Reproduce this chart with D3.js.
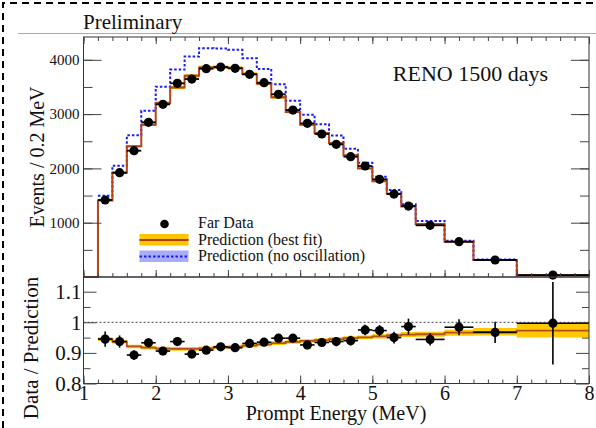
<!DOCTYPE html>
<html>
<head>
<meta charset="utf-8">
<script src="https://cdn.jsdelivr.net/npm/d3@7"></script>
<style>
  body { margin: 0; background: #fff; }
  svg { display: block; font-family: "Liberation Serif", "Times New Roman", serif; }
  .axis path.domain { display: none; }
  .axis line { stroke: #444; stroke-width: 1; }
  .axis text { fill: #111; font-family: "Liberation Serif", serif; }
</style>
</head>
<body>
<div id="chart"></div>
<script>
// bin edges in MeV (wider bins above 5.6 MeV)
var binEdges = [1.2, 1.4, 1.6, 1.8, 2.0, 2.2, 2.4, 2.6, 2.8, 3.0, 3.2, 3.4, 3.6, 3.8,
                4.0, 4.2, 4.4, 4.6, 4.8, 5.0, 5.2, 5.4, 5.6, 6.0, 6.4, 7.0, 8.0];
var binCenters = [1.3, 1.5, 1.7, 1.9, 2.1, 2.3, 2.5, 2.7, 2.9, 3.1, 3.3, 3.5, 3.7,
                  3.9, 4.1, 4.3, 4.5, 4.7, 4.9, 5.1, 5.3, 5.5, 5.8, 6.2, 6.7, 7.5];

// events / 0.2 MeV
var farData = [1418, 1921, 2326, 2849, 3180, 3567, 3646, 3836, 3867, 3843, 3733, 3578, 3365,
               3075, 2830, 2634, 2443, 2216, 2044, 1799, 1528, 1307, 952, 650, 313, 35];
var predBestFit = [1410, 1921, 2410, 2805, 3205, 3490, 3705, 3860, 3865, 3850, 3740, 3560, 3310,
                   3040, 2805, 2650, 2465, 2240, 2000, 1762, 1533, 1300, 975, 650, 313, 34];
var predNoOsc = [1495, 2050, 2610, 3060, 3505, 3820, 4060, 4215, 4210, 4185, 4030, 3830, 3550,
                 3247, 2990, 2812, 2608, 2360, 2105, 1847, 1602, 1339, 1031, 668, 322, 35];

// data / prediction(no oscillation)
var ratioData = [0.945, 0.937, 0.893, 0.933, 0.906, 0.937, 0.896, 0.909, 0.920, 0.917, 0.931, 0.935, 0.948,
                 0.948, 0.926, 0.934, 0.937, 0.940, 0.975, 0.973, 0.950, 0.986, 0.944, 0.984, 0.967, 0.997];
var ratioErr = [0.025, 0.020, 0.016, 0.014, 0.013, 0.013, 0.013, 0.012, 0.012, 0.012, 0.012, 0.012, 0.013,
                0.013, 0.014, 0.014, 0.015, 0.016, 0.017, 0.018, 0.019, 0.026, 0.020, 0.026, 0.035, 0.135];
var ratioFit = [0.945, 0.937, 0.921, 0.917, 0.914, 0.913, 0.913, 0.915, 0.918, 0.920, 0.924, 0.928, 0.932,
                0.936, 0.939, 0.942, 0.945, 0.948, 0.951, 0.954, 0.957, 0.960, 0.961, 0.966, 0.969, 0.973];
var ratioFitErr = [0.006, 0.006, 0.006, 0.006, 0.006, 0.006, 0.006, 0.006, 0.006, 0.006, 0.006, 0.006, 0.006,
                   0.006, 0.006, 0.006, 0.006, 0.006, 0.006, 0.007, 0.007, 0.008, 0.008, 0.010, 0.012, 0.023];

var xTicks = [1, 2, 3, 4, 5, 6, 7, 8];
var yTopTicks = [1000, 2000, 3000, 4000];
var yLowTicks = [0.8, 0.9, 1, 1.1];

var W = 596, H = 428;
var svg = d3.select("#chart").append("svg")
    .attr("width", W)
    .attr("height", H);

// dashed outline (left + top) and the header rule
svg.append("path")
    .attr("d", "M3,428V3H596")
    .attr("fill", "none")
    .attr("stroke", "#000")
    .attr("stroke-width", 2)
    .attr("stroke-dasharray", "7,5");

svg.append("line")
    .attr("x1", 18).attr("x2", 596)
    .attr("y1", 33.5).attr("y2", 33.5)
    .attr("stroke", "#aaa").attr("stroke-width", 1);

svg.append("text")
    .attr("x", 83).attr("y", 29)
    .attr("font-size", 21)
    .attr("fill", "#111")
    .text("Preliminary");

var x = d3.scaleLinear().domain([1, 8]).range([83.5, 589]);
var yTop = d3.scaleLinear().domain([0, 4420]).range([277, 37]);
var yLow = d3.scaleLinear().domain([0.8, 1.148]).range([383.5, 277]);

// ---- upper pad ----
var upper = svg.append("g");

var stepLine = function (ys) {
    return d3.line()
        .x(function (d) { return x(d[0]); })
        .y(function (d) { return ys(d[1]); })
        .curve(d3.curveStepAfter);
};
var stepArea = function (ys) {
    return d3.area()
        .x(function (d) { return x(d[0]); })
        .y0(function (d) { return ys(d[1]); })
        .y1(function (d) { return ys(d[2]); })
        .curve(d3.curveStepAfter);
};

function withEnd(vals) {
    var pts = vals.map(function (v, i) { return [binEdges[i], v]; });
    pts.push([binEdges[binEdges.length - 1], vals[vals.length - 1]]);
    return pts;
}

// thin band around the best fit
var bandTop = predBestFit.map(function (v, i) { return [binEdges[i], v * 0.992, v * 1.008]; });
bandTop.push([8, predBestFit[25] * 0.992, predBestFit[25] * 1.008]);
upper.append("path")
    .attr("d", stepArea(yTop)(bandTop))
    .attr("fill", "#ffb400");

// no-oscillation prediction, blue dotted
upper.append("path")
    .attr("d", stepLine(yTop)(withEnd(predNoOsc)))
    .attr("fill", "none")
    .attr("stroke", "#1a1aff")
    .attr("stroke-width", 2)
    .attr("stroke-dasharray", "2.5,2");

// best fit prediction, starting from zero at 1 MeV
var fitPts = [[1.0, 0]].concat(withEnd(predBestFit));
upper.append("path")
    .attr("d", stepLine(yTop)(fitPts))
    .attr("fill", "none")
    .attr("stroke", "#b5441b")
    .attr("stroke-width", 2);

// far data
var dataG = upper.selectAll(".fd")
    .data(farData)
    .enter().append("g");
dataG.append("line")
    .attr("x1", function (d, i) { return x(binEdges[i]); })
    .attr("x2", function (d, i) { return x(binEdges[i + 1]); })
    .attr("y1", function (d) { return yTop(d); })
    .attr("y2", function (d) { return yTop(d); })
    .attr("stroke", "#000").attr("stroke-width", 1.8);
dataG.append("circle")
    .attr("cx", function (d, i) { return x(binCenters[i]); })
    .attr("cy", function (d) { return yTop(d); })
    .attr("r", 4.6)
    .attr("fill", "#000");

upper.append("rect")
    .attr("x", 83.5).attr("y", 37)
    .attr("width", 505.5).attr("height", 240)
    .attr("fill", "none").attr("stroke", "#333").attr("stroke-width", 1);

// y axis ticks (left labelled, right bare)
upper.append("g").attr("class", "axis").attr("transform", "translate(83.5,0)")
    .call(d3.axisLeft(yTop).tickValues(d3.range(500, 4420, 500)).tickSize(-9).tickFormat(""));
upper.append("g").attr("class", "axis").attr("transform", "translate(83.5,0)")
    .call(d3.axisLeft(yTop).tickValues(yTopTicks).tickSize(-18).tickPadding(4).tickFormat(d3.format("d")))
    .selectAll("text").attr("font-size", 15);
upper.append("g").attr("class", "axis").attr("transform", "translate(589,0)")
    .call(d3.axisRight(yTop).tickValues(d3.range(500, 4420, 500)).tickSize(-9).tickFormat(""));
upper.append("g").attr("class", "axis").attr("transform", "translate(589,0)")
    .call(d3.axisRight(yTop).tickValues(yTopTicks).tickSize(-18).tickFormat(""));

var minorX = d3.range(1, 8.01, 0.2);
upper.append("g").attr("class", "axis").attr("transform", "translate(0,277)")
    .call(d3.axisBottom(x).tickValues(minorX).tickSize(-4).tickFormat(""));
upper.append("g").attr("class", "axis").attr("transform", "translate(0,277)")
    .call(d3.axisBottom(x).tickValues(xTicks).tickSize(-7).tickFormat(""));
upper.append("g").attr("class", "axis").attr("transform", "translate(0,37)")
    .call(d3.axisTop(x).tickValues(minorX).tickSize(-4).tickFormat(""));
upper.append("g").attr("class", "axis").attr("transform", "translate(0,37)")
    .call(d3.axisTop(x).tickValues(xTicks).tickSize(-7).tickFormat(""));

upper.append("text")
    .attr("x", 548).attr("y", 81)
    .attr("text-anchor", "end")
    .attr("font-size", 22)
    .attr("fill", "#111")
    .text("RENO 1500 days");

upper.append("text")
    .attr("transform", "translate(44,157) rotate(-90)")
    .attr("text-anchor", "middle")
    .attr("font-size", 20)
    .attr("fill", "#111")
    .text("Events / 0.2 MeV");

// legend
var leg = upper.append("g");
leg.append("circle").attr("cx", 164.5).attr("cy", 224).attr("r", 4.3).attr("fill", "#000");
leg.append("rect").attr("x", 139.5).attr("y", 234).attr("width", 49).attr("height", 11.5).attr("fill", "#ffc400");
leg.append("line").attr("x1", 139.5).attr("x2", 188.5).attr("y1", 240).attr("y2", 240)
    .attr("stroke", "#a8400c").attr("stroke-width", 2);
leg.append("rect").attr("x", 139.5).attr("y", 250.5).attr("width", 49).attr("height", 11.5).attr("fill", "#a9acf7");
leg.append("line").attr("x1", 139.5).attr("x2", 188.5).attr("y1", 256.5).attr("y2", 256.5)
    .attr("stroke", "#1a1aff").attr("stroke-width", 2).attr("stroke-dasharray", "2.5,2");
var legLabels = ["Far Data", "Prediction (best fit)", "Prediction (no oscillation)"];
leg.selectAll(".lt").data(legLabels).enter().append("text")
    .attr("x", 198)
    .attr("y", function (d, i) { return 228 + i * 16.5; })
    .attr("font-size", 16)
    .attr("fill", "#111")
    .text(function (d) { return d; });

// ---- lower pad ----
var lower = svg.append("g");

var bandLow = ratioFit.map(function (v, i) { return [binEdges[i], v - ratioFitErr[i], v + ratioFitErr[i]]; });
bandLow.push([8, ratioFit[25] - ratioFitErr[25], ratioFit[25] + ratioFitErr[25]]);
lower.append("path")
    .attr("d", stepArea(yLow)(bandLow))
    .attr("fill", "#ffc800");
lower.append("path")
    .attr("d", stepLine(yLow)(withEnd(ratioFit)))
    .attr("fill", "none")
    .attr("stroke", "#b5501a")
    .attr("stroke-width", 1.8);

lower.append("line")
    .attr("x1", x(1)).attr("x2", x(8))
    .attr("y1", yLow(1)).attr("y2", yLow(1))
    .attr("stroke", "#444").attr("stroke-width", 1)
    .attr("stroke-dasharray", "2,2");

var rg = lower.selectAll(".rd")
    .data(ratioData)
    .enter().append("g");
rg.append("line")
    .attr("x1", function (d, i) { return x(binEdges[i]); })
    .attr("x2", function (d, i) { return x(binEdges[i + 1]); })
    .attr("y1", function (d) { return yLow(d); })
    .attr("y2", function (d) { return yLow(d); })
    .attr("stroke", "#000").attr("stroke-width", 1.6);
rg.append("line")
    .attr("x1", function (d, i) { return x(binCenters[i]); })
    .attr("x2", function (d, i) { return x(binCenters[i]); })
    .attr("y1", function (d, i) { return yLow(d - ratioErr[i]); })
    .attr("y2", function (d, i) { return yLow(d + ratioErr[i]); })
    .attr("stroke", "#000").attr("stroke-width", 1.6);
rg.append("circle")
    .attr("cx", function (d, i) { return x(binCenters[i]); })
    .attr("cy", function (d) { return yLow(d); })
    .attr("r", 4.6)
    .attr("fill", "#000");

lower.append("rect")
    .attr("x", 83.5).attr("y", 277)
    .attr("width", 505.5).attr("height", 106.5)
    .attr("fill", "none").attr("stroke", "#333").attr("stroke-width", 1);

var minorLow = d3.range(0.85, 1.148, 0.1);
lower.append("g").attr("class", "axis").attr("transform", "translate(83.5,0)")
    .call(d3.axisLeft(yLow).tickValues(minorLow).tickSize(-7).tickFormat(""));
lower.append("g").attr("class", "axis").attr("transform", "translate(83.5,0)")
    .call(d3.axisLeft(yLow).tickValues(yLowTicks).tickSize(-13).tickPadding(2).tickFormat(d3.format("")))
    .selectAll("text").attr("font-size", 21);
lower.append("g").attr("class", "axis").attr("transform", "translate(589,0)")
    .call(d3.axisRight(yLow).tickValues(minorLow).tickSize(-7).tickFormat(""));
lower.append("g").attr("class", "axis").attr("transform", "translate(589,0)")
    .call(d3.axisRight(yLow).tickValues(yLowTicks).tickSize(-13).tickFormat(""));

lower.append("g").attr("class", "axis").attr("transform", "translate(0,383.5)")
    .call(d3.axisBottom(x).tickValues(minorX).tickSize(-4).tickFormat(""));
lower.append("g").attr("class", "axis").attr("transform", "translate(0,383.5)")
    .call(d3.axisBottom(x).tickValues(xTicks).tickSize(-8).tickPadding(2).tickFormat(d3.format("d")))
    .selectAll("text").attr("font-size", 20);

lower.append("text")
    .attr("x", 336).attr("y", 420)
    .attr("text-anchor", "middle")
    .attr("font-size", 20)
    .attr("fill", "#111")
    .text("Prompt Energy (MeV)");

lower.append("text")
    .attr("transform", "translate(38,348) rotate(-90)")
    .attr("text-anchor", "middle")
    .attr("font-size", 21)
    .attr("fill", "#111")
    .text("Data / Prediction");
</script>
</body>
</html>
